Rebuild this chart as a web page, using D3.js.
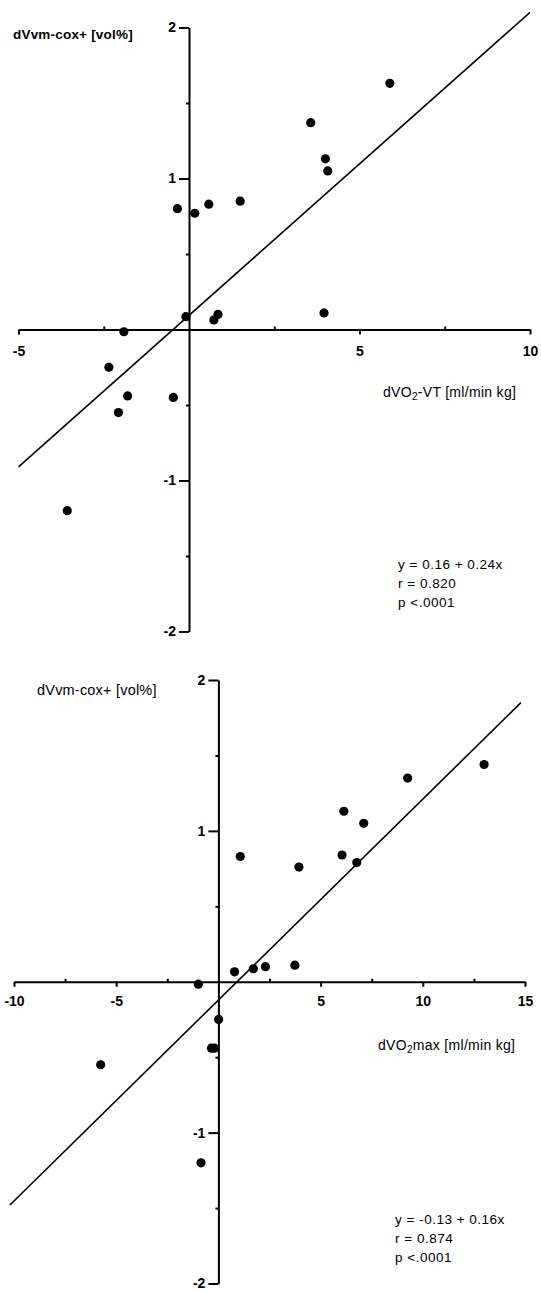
<!DOCTYPE html>
<html>
<head>
<meta charset="utf-8">
<script src="https://cdn.jsdelivr.net/npm/d3@7"></script>
<style>
  body { margin: 0; background: #fff; }
  #chart { width: 541px; height: 1292px; }
  text { font-family: "Liberation Sans", Arial, sans-serif; fill: #000; }
  .axis path, .axis line { stroke: #000; stroke-width: 2; }
</style>
</head>
<body>
<div id="chart"></div>
<script>
// data
var topX = [5.89, 3.57, 4.00, 4.07, 1.50, 0.58, -0.34, 0.17, -0.09, 0.73, 0.85, 3.96, -1.91, -2.35, -1.80, -0.46, -2.07, -3.57];
var topY = [1.63, 1.37, 1.13, 1.05, 0.85, 0.83, 0.80, 0.77, 0.085, 0.063, 0.10, 0.11, -0.015, -0.25, -0.44, -0.45, -0.55, -1.20];
var topFitX = [-5, 10];
var topFitY = [-0.91, 2.1];
var topXTicks = [-5, 5, 10];
var topXMinor = [-2.5, 2.5, 7.5];
var topStats = ["y = 0.16 + 0.24x", "r = 0.820", "p <.0001"];

var botX = [13.0, 9.26, 6.14, 7.11, 1.07, 3.94, 6.05, 6.77, -0.98, 0.79, 1.71, 2.30, 3.74, 0.01, -0.34, -0.19, -5.76, -0.85];
var botY = [1.44, 1.35, 1.13, 1.05, 0.83, 0.76, 0.84, 0.79, -0.016, 0.066, 0.086, 0.10, 0.11, -0.25, -0.44, -0.44, -0.55, -1.20];
var botFitX = [-10.2, 14.8];
var botFitY = [-1.48, 1.85];
var botXTicks = [-10, -5, 5, 10, 15];
var botXMinor = [-7.5, -2.5, 2.5, 7.5, 12.5];
var botStats = ["y = -0.13 + 0.16x", "r = 0.874", "p <.0001"];

var yTicks = [-2, -1, 1, 2];
var yMinor = [-1.5, -0.5, 0.5, 1.5];
var yLabel = "dVvm-cox+ [vol%]";

var svg = d3.select("#chart").append("svg")
    .attr("width", 541)
    .attr("height", 1292);

svg.append("rect").attr("width", 541).attr("height", 1292).attr("fill", "#fff");

function drawPanel(p) {
    var g = svg.append("g");
    var x = d3.scaleLinear().domain(p.xDomain).range(p.xRange);
    var y = d3.scaleLinear().domain([-2, 2]).range(p.yRange);

    // y axis on x = 0
    g.append("g").attr("class", "axis")
        .attr("transform", "translate(" + x(0) + ",0)")
        .call(d3.axisLeft(y).tickValues(yTicks).tickSize(10).tickSizeOuter(0).tickPadding(3)
            .tickFormat(function(d) { return d < 0 ? "-" + Math.abs(d) : d; }))
        .selectAll("text").style("font-size", "14px").style("font-weight", "bold");
    g.append("g").attr("class", "axis")
        .attr("transform", "translate(" + x(0) + ",0)")
        .call(d3.axisLeft(y).tickValues(yMinor).tickSize(3).tickFormat(""))
        .select(".domain").remove();

    // x axis on y = 0
    g.append("g").attr("class", "axis")
        .attr("transform", "translate(0," + y(0) + ")")
        .call(d3.axisBottom(x).tickValues(p.xTicks).tickSize(5).tickSizeOuter(0).tickPadding(p.xPad)
            .tickFormat(function(d) { return d < 0 ? "-" + Math.abs(d) : d; }))
        .selectAll("text").style("font-size", "14px").style("font-weight", "bold");
    g.append("g").attr("class", "axis")
        .attr("transform", "translate(0," + y(0) + ")")
        .call(d3.axisTop(x).tickValues(p.xMinor).tickSize(3).tickFormat(""))
        .select(".domain").remove();

    // regression line
    g.append("path")
        .datum(d3.zip(p.fitX, p.fitY))
        .attr("fill", "none")
        .attr("stroke", "#000")
        .attr("stroke-width", 1.6)
        .attr("d", d3.line().x(function(d) { return x(d[0]); }).y(function(d) { return y(d[1]); }));

    // points
    g.selectAll(".dot")
        .data(d3.zip(p.px, p.py))
        .enter().append("circle")
        .attr("class", "dot")
        .attr("cx", function(d) { return x(d[0]); })
        .attr("cy", function(d) { return y(d[1]); })
        .attr("r", 4.6)
        .attr("fill", "#000");

    // axis titles
    g.append("text")
        .attr("x", p.yLabelPos[0]).attr("y", p.yLabelPos[1])
        .style("font-size", p.yLabelSize).style("font-weight", p.yLabelWeight)
        .style("letter-spacing", "0.2px")
        .text(yLabel);

    var xl = g.append("text")
        .attr("x", p.xLabelPos[0]).attr("y", p.xLabelPos[1])
        .style("font-size", "14px").style("letter-spacing", "0.3px");
    xl.append("tspan").text("dVO");
    xl.append("tspan").attr("dy", 3).style("font-size", "10px").text("2");
    xl.append("tspan").attr("dy", -3).text(p.xLabelRest);

    // stats block
    g.selectAll(".stat")
        .data(p.stats)
        .enter().append("text")
        .attr("class", "stat")
        .attr("x", p.statPos[0])
        .attr("y", function(d, i) { return p.statPos[1] + i * 19; })
        .style("font-size", "13.5px")
        .style("letter-spacing", "0.5px")
        .text(function(d) { return d; });
}

drawPanel({
    xDomain: [-5, 10], xRange: [18.5, 530], yRange: [631.5, 27.5],
    xTicks: topXTicks, xMinor: topXMinor, xPad: 12,
    px: topX, py: topY, fitX: topFitX, fitY: topFitY,
    yLabelPos: [13, 39], yLabelWeight: "bold", yLabelSize: "13.5px",
    xLabelPos: [383, 397], xLabelRest: "-VT [ml/min kg]",
    stats: topStats, statPos: [398, 569]
});

drawPanel({
    xDomain: [-10, 15], xRange: [14, 525], yRange: [1283.5, 680],
    xTicks: botXTicks, xMinor: botXMinor, xPad: 9,
    px: botX, py: botY, fitX: botFitX, fitY: botFitY,
    yLabelPos: [37, 695], yLabelWeight: "normal", yLabelSize: "14.5px",
    xLabelPos: [378, 1050], xLabelRest: "max [ml/min kg]",
    stats: botStats, statPos: [395, 1224]
});
</script>
</body>
</html>
